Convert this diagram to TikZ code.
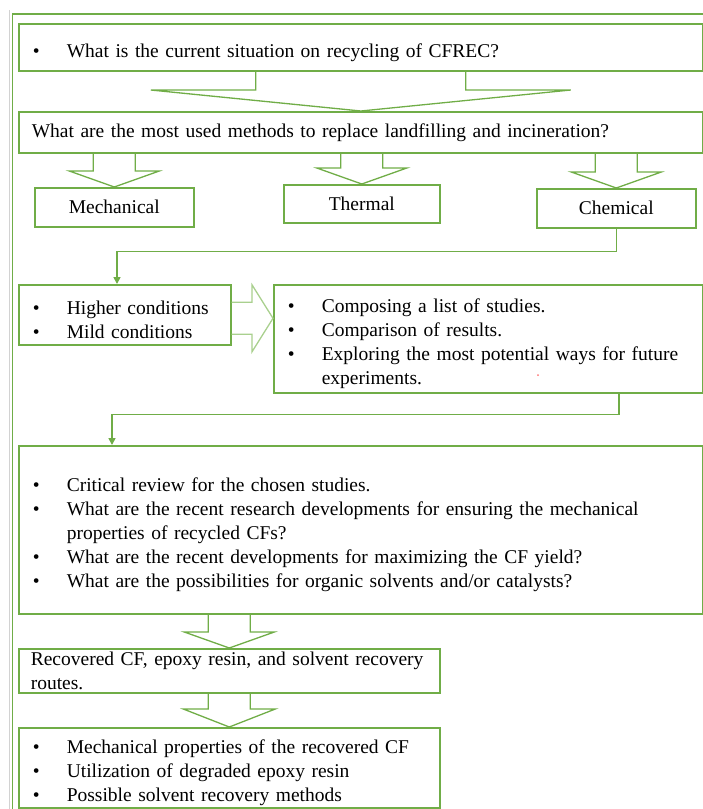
\documentclass[tikz,border=0pt]{standalone}
\usepackage{fontspec}
\setmainfont{Liberation Serif}
\usepackage{tikz}
\usetikzlibrary{calc,arrows.meta}

\definecolor{leafgreen}{RGB}{112,173,71}
\definecolor{palegreen}{RGB}{169,208,142}
\newcommand{\bul}{\par\noindent\hangindent=34pt\hangafter=1\makebox[34pt][l]{\textbullet}}
\newcommand{\bcont}{\par\noindent\hspace*{34pt}}

\begin{document}
\begin{tikzpicture}[x=1pt,y=1pt,yscale=-1,
    box/.style={draw=leafgreen, line width=1.6pt, anchor=north west, inner ysep=0pt, font=\fontsize{19.5}{24}\selectfont},
    listbox/.style={box, align=left, inner xsep=14pt},
    hollow/.style={draw=leafgreen, line width=1.3pt, line join=miter},
    conn/.style={draw=leafgreen, line width=1.6pt, -{Triangle[length=7pt,width=7pt]}}]
        \useasboundingbox (0,0) rectangle (703,809);

        %Frame
        \draw [gray!35, line width=1pt] (9.5,10) -- (9.5,809) ;
        \draw [leafgreen, line width=1.8pt] (703,14) -- (12.5,14) -- (12.5,809) ;

        % Text Node
        \node [listbox, text width=656pt, minimum height=47pt] (q1) at (18,23) {\bul What is the current situation on recycling of CFREC?};
        % Text Node
        \node [box, align=left, inner xsep=13pt, text width=658pt, minimum height=41pt] (q2) at (18,111) {What are the most used methods to replace landfilling and incineration?};
        % Text Node
        \node [box, minimum width=159pt, minimum height=39pt] (mech) at (34,187) {Mechanical};
        % Text Node
        \node [box, minimum width=156pt, minimum height=38pt] (therm) at (283,184) {Thermal};
        % Text Node
        \node [box, minimum width=159pt, minimum height=39pt] (chem) at (536,188) {Chemical};
        % Text Node
        \node [listbox, text width=184pt, minimum height=60pt] (cond) at (18,284) {\bul Higher conditions \bul Mild conditions};
        % Text Node
        \node [listbox, text width=401pt, minimum height=108pt] (list) at (273,284) {\bul Composing a list of studies. \bul Comparison of results. \bul Exploring the most potential ways for future \bcont experiments.};
        % Text Node
        \node [listbox, text width=656pt, minimum height=168pt] (review) at (18,445) {\bul Critical review for the chosen studies. \bul What are the recent research developments for ensuring the mechanical \bcont properties of recycled CFs? \bul What are the recent developments for maximizing the CF yield? \bul What are the possibilities for organic solvents and/or catalysts?};
        % Text Node
        \node [box, align=left, inner xsep=12pt, text width=397pt, minimum height=44pt] (routes) at (18,648) {Recovered CF, epoxy resin, and solvent recovery\newline routes.};
        % Text Node
        \node [listbox, text width=393pt, minimum height=80pt] (props) at (18,727) {\bul Mechanical properties of the recovered CF \bul Utilization of degraded epoxy resin \bul Possible solvent recovery methods};

        %Shape: Block Arrows (down)
        \foreach \src/\dst/\sw/\hw/\hl in {q1/q2/105/210/21, q2/mech/21/45/16, q2/therm/21/45/16, q2/chem/21/45/16, review/routes/21/45/16, routes/props/21/46/18}
          \draw [hollow] ($(\src.south -| \dst.north)+(-\sw,0)$) -- ($(\dst.north)+(-\sw,-\hl)$) -- ($(\dst.north)+(-\hw,-\hl)$) -- (\dst.north) -- ($(\dst.north)+(\hw,-\hl)$) -- ($(\dst.north)+(\sw,-\hl)$) -- ($(\src.south -| \dst.north)+(\sw,0)$) ;
        %Shape: Block Arrow (right)
        \draw [hollow, draw=palegreen] ($(cond.east)+(0,-12.5)$) -- ($(list.west |- cond.east)+(-21,-12.5)$) -- ($(list.west |- cond.east)+(-21,-30)$) -- ($(list.west |- cond.east)+(0,3.5)$) -- ($(list.west |- cond.east)+(-21,37)$) -- ($(list.west |- cond.east)+(-21,19.5)$) -- ($(cond.east)+(0,19.5)$) ;

        %Connectors
        \draw [conn] (chem.south) -- ++(0,23) -| ($(cond.north west)+(99,0)$) ;
        \draw [conn] ($(list.south west)+(346,0)$) -- ++(0,21) -| ($(review.north west)+(94,0)$) ;

        \fill [red!55] (538,375) circle (1) ;
\end{tikzpicture}
\end{document}
